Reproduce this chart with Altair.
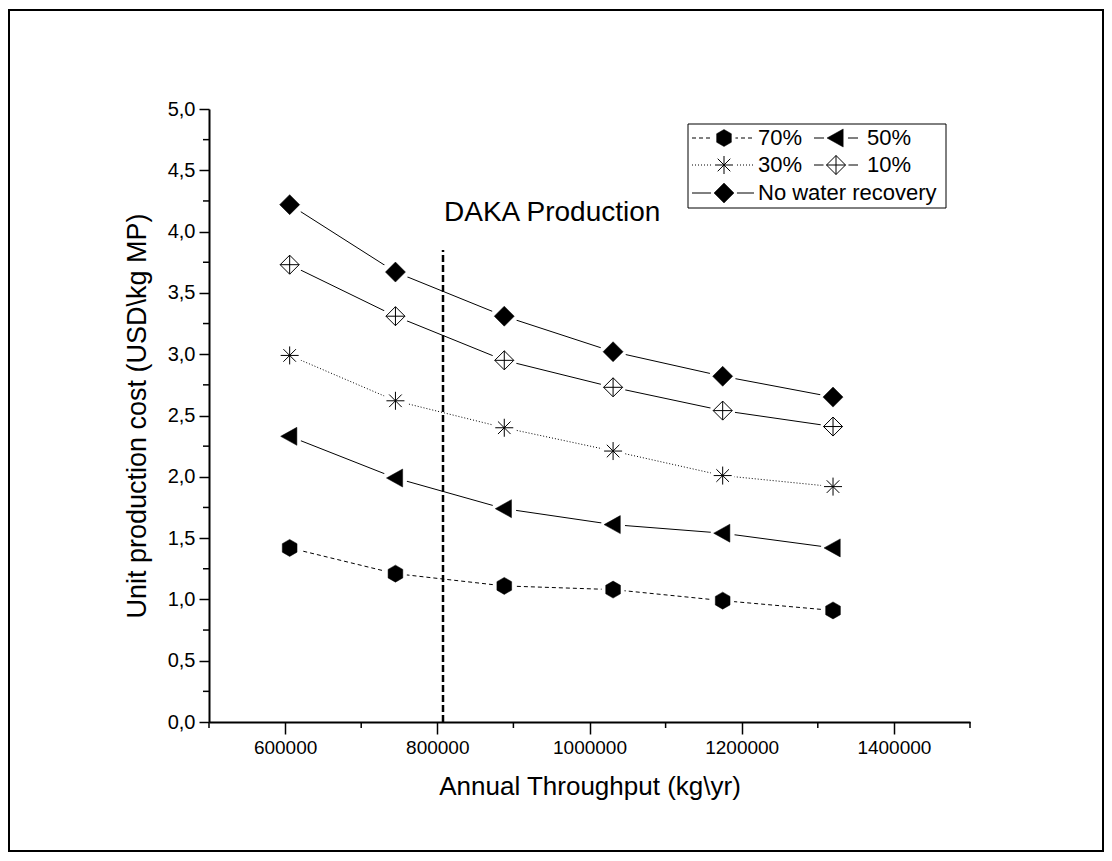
import altair as alt
import pandas as pd

# ---------------- data ----------------
throughput = [606000, 745000, 888000, 1031000, 1175000, 1320000]
series = ["70%", "50%", "30%", "10%", "No water recovery"]
cost_70 = [1.42, 1.21, 1.11, 1.08, 0.99, 0.91]
cost_50 = [2.33, 1.99, 1.74, 1.61, 1.54, 1.42]
cost_30 = [2.99, 2.62, 2.40, 2.21, 2.01, 1.92]
cost_10 = [3.73, 3.31, 2.95, 2.73, 2.54, 2.41]
cost_none = [4.22, 3.67, 3.31, 3.02, 2.82, 2.65]
values_by_series = {"70%": cost_70, "50%": cost_50, "30%": cost_30,
                    "10%": cost_10, "No water recovery": cost_none}

daka_x = [807500]
daka_top = [3.85]
daka_label = ["DAKA Production"]
daka_label_y = [4.15]

x_major = [600000, 800000, 1000000, 1200000, 1400000]
x_minor = [500000, 700000, 900000, 1100000, 1300000, 1500000]
y_major = [0.0, 0.5, 1.0, 1.5, 2.0, 2.5, 3.0, 3.5, 4.0, 4.5, 5.0]
y_minor = [0.25, 0.75, 1.25, 1.75, 2.25, 2.75, 3.25, 3.75, 4.25, 4.75]

# ---------------- layout / style ----------------
W, H = 761, 613
PAD = {"left": 209, "top": 109, "right": 142, "bottom": 139}
FONT = "Liberation Sans"

HEX = "M0,-1L0.866,-0.5L0.866,0.5L0,1L-0.866,0.5L-0.866,-0.5Z"
TRI_L = "M-1,0L0.8,-1L0.8,1Z"
STAR = "M-1,0L1,0M0,-1L0,1M-0.7,-0.7L0.7,0.7M-0.7,0.7L0.7,-0.7"
DIAM_X = "M0,-1L1,0L0,1L-1,0ZM0,-1L0,1M-1,0L1,0"
DIAM = "M0,-1L1,0L0,1L-1,0Z"

styles = {
    "70%": dict(dash=[4, 3], shape=HEX, filled=True, size=289),
    "50%": dict(dash=None, shape=TRI_L, filled=True, size=324),
    "30%": dict(dash=[1, 2], shape=STAR, filled=False, size=324),
    "10%": dict(dash=None, shape=DIAM_X, filled=False, size=361),
    "No water recovery": dict(dash=None, shape=DIAM, filled=True, size=400),
}

rows = []
for s in series:
    for xv, yv in zip(throughput, values_by_series[s]):
        rows.append({"series": s, "x": xv, "y": yv})
df = pd.DataFrame(rows)

xs = alt.Scale(domain=[500000, 1500000], nice=False, zero=False)
ys = alt.Scale(domain=[0, 5], nice=False, zero=True)

x_axis = alt.Axis(values=x_major, format="d", title="Annual Throughput (kg\\yr)",
                  grid=False, tickSize=12, tickWidth=1.5, tickColor="black",
                  domainWidth=2, domainColor="black",
                  labelFont=FONT, labelFontSize=19, labelColor="black", labelPadding=4,
                  titleFont=FONT, titleFontSize=26, titleFontWeight="normal",
                  titleColor="black", titlePadding=16)
y_axis = alt.Axis(values=y_major, labelExpr="replace(format(datum.value, '.1f'), '.', ',')",
                  title="Unit production cost (USD\\kg MP)",
                  grid=False, tickSize=10, tickWidth=1.5, tickColor="black",
                  domainWidth=2, domainColor="black",
                  labelFont=FONT, labelFontSize=20, labelColor="black", labelPadding=4,
                  titleFont=FONT, titleFontSize=27, titleFontWeight="normal",
                  titleColor="black", titlePadding=16)

X = alt.X("x:Q", scale=xs, axis=x_axis)
Y = alt.Y("y:Q", scale=ys, axis=y_axis)

layers = []

# minor ticks
layers.append(alt.Chart(pd.DataFrame({"x": x_minor})).mark_rule(color="black", strokeWidth=1.5).encode(
    x=X, y=alt.value(H), y2=alt.value(H + 6)))
layers.append(alt.Chart(pd.DataFrame({"y": y_minor})).mark_rule(color="black", strokeWidth=1.5).encode(
    y=Y, x=alt.value(0), x2=alt.value(-6)))

# DAKA vertical line + label
daka_df = pd.DataFrame({"x": daka_x, "y": [0], "y2": daka_top})
layers.append(alt.Chart(daka_df).mark_rule(color="black", strokeWidth=2.5, strokeDash=[7, 3]).encode(
    x=X, y=Y, y2="y2:Q"))
layers.append(alt.Chart(pd.DataFrame({"x": daka_x, "y": daka_label_y, "t": daka_label})).mark_text(
    align="left", baseline="middle", dx=1, font=FONT, fontSize=28, color="black").encode(
    x=X, y=Y, text="t:N"))

# series
for s in series:
    st = styles[s]
    sub = alt.Chart(df).transform_filter(alt.datum.series == s)
    line_kw = dict(color="black", strokeWidth=1)
    if st["dash"]:
        line_kw["strokeDash"] = st["dash"]
    layers.append(sub.mark_line(**line_kw).encode(x=X, y=Y))
    layers.append(sub.mark_point(shape="circle", filled=True, color="white", opacity=1,
                                 size=(st["size"] ** 0.5 + 6) ** 2).encode(x=X, y=Y))
    if st["filled"]:
        pk = dict(shape=st["shape"], filled=True, fill="black", stroke="black",
                  strokeWidth=0.5, opacity=1, size=st["size"])
    else:
        pk = dict(shape=st["shape"], filled=False, fill="white", stroke="black",
                  strokeWidth=1, opacity=1, fillOpacity=1, size=st["size"])
    layers.append(sub.mark_point(**pk).encode(x=X, y=Y))

# legend (manual, Origin style)
ox, oy = PAD["left"], PAD["top"]
leg_box = dict(x1=688 - ox, x2=946 - ox, y1=124 - oy, y2=208 - oy)
layers.append(alt.Chart(pd.DataFrame({"a": [0]})).mark_rect(
    fill="white", stroke="black", strokeWidth=1).encode(
    x=alt.value(leg_box["x1"]), x2=alt.value(leg_box["x2"]),
    y=alt.value(leg_box["y1"]), y2=alt.value(leg_box["y2"])))

legend_pos = {"70%": (0, 0), "50%": (0, 1), "30%": (1, 0), "10%": (1, 1),
              "No water recovery": (2, 0)}
row_y = [138 - oy, 165 - oy, 193 - oy]
col_line = [(692 - ox, 754 - ox), (814 - ox, 858 - ox)]
col_sym = [724 - ox, 836 - ox]
col_txt = [758 - ox, 867 - ox]
one = pd.DataFrame({"a": [0]})
for s in series:
    st = styles[s]
    r, c = legend_pos[s]
    yy = row_y[r]
    line_kw = dict(color="black", strokeWidth=1)
    if st["dash"]:
        line_kw["strokeDash"] = st["dash"]
    layers.append(alt.Chart(one).mark_rule(**line_kw).encode(
        x=alt.value(col_line[c][0]), x2=alt.value(col_line[c][1]), y=alt.value(yy)))
    layers.append(alt.Chart(one).mark_point(shape="circle", filled=True, color="white", opacity=1,
                                            size=(st["size"] ** 0.5 + 6) ** 2).encode(
        x=alt.value(col_sym[c]), y=alt.value(yy)))
    if st["filled"]:
        pk = dict(shape=st["shape"], filled=True, fill="black", stroke="black",
                  strokeWidth=0.5, opacity=1, size=st["size"])
    else:
        pk = dict(shape=st["shape"], filled=False, fill="white", stroke="black",
                  strokeWidth=1, opacity=1, fillOpacity=1, size=st["size"])
    layers.append(alt.Chart(one).mark_point(**pk).encode(x=alt.value(col_sym[c]), y=alt.value(yy)))
    layers.append(alt.Chart(pd.DataFrame({"t": [s]})).mark_text(
        align="left", baseline="middle", font=FONT, fontSize=22, color="black").encode(
        x=alt.value(col_txt[c]), y=alt.value(yy), text="t:N"))

# outer frame
layers.append(alt.Chart(one).mark_rect(fill=None, stroke="black", strokeWidth=2, fillOpacity=0).encode(
    x=alt.value(9 - ox), x2=alt.value(1103 - ox), y=alt.value(10 - oy), y2=alt.value(851 - oy)))

chart = alt.layer(*layers).properties(
    width=W, height=H, padding=PAD,
    autosize=alt.AutoSizeParams(type="none"),
    background="white",
).configure_view(stroke=None)

chart.save("out.html", embed_options={"renderer": "svg", "actions": False})
